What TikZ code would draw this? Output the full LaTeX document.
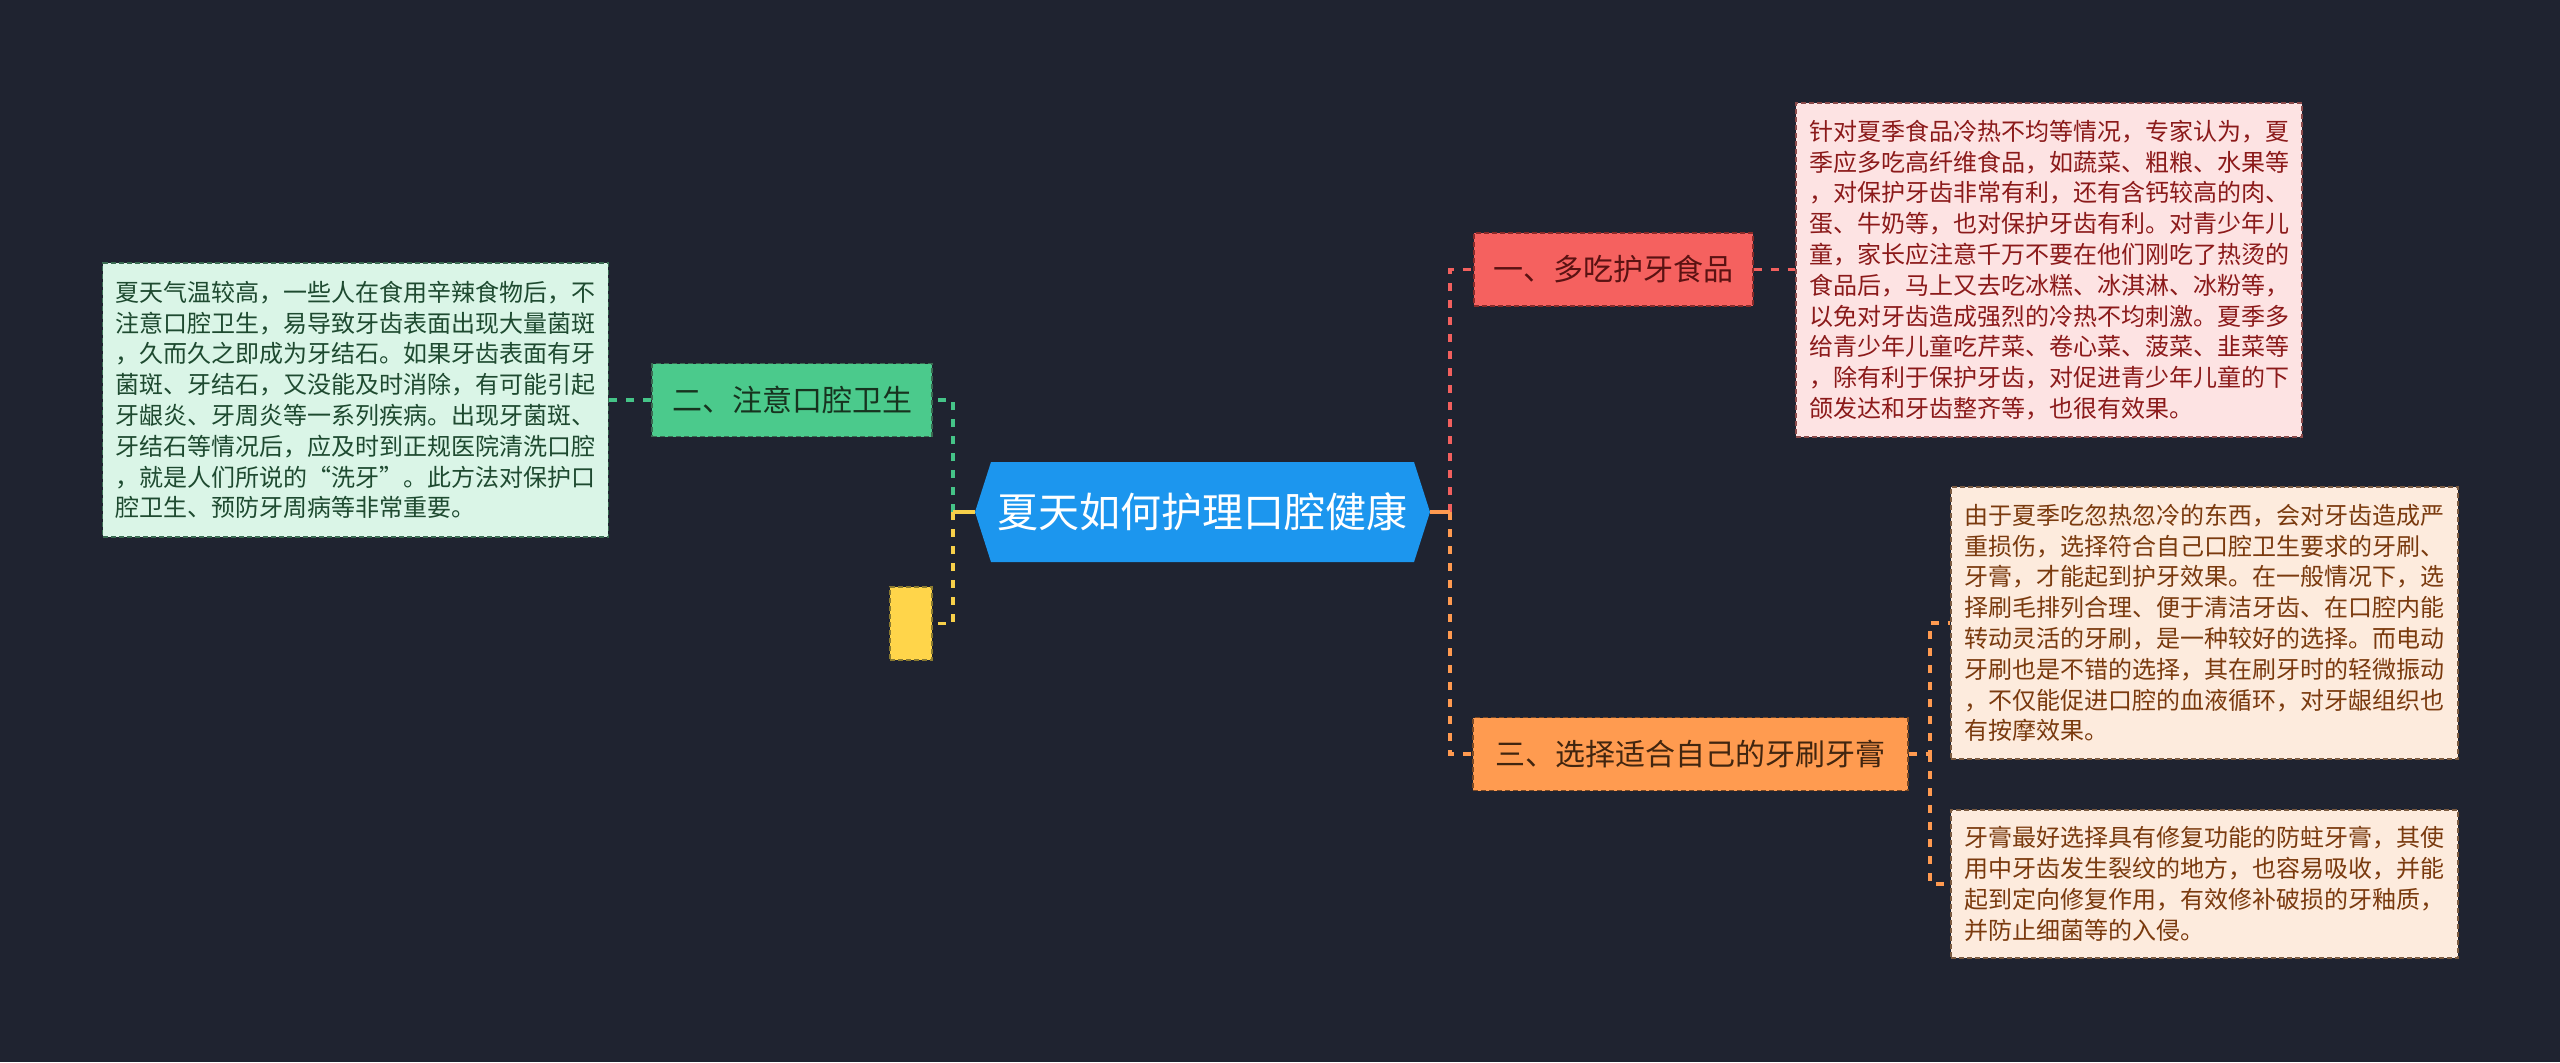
\documentclass[tikz,border=0pt]{standalone}
\usepackage{fontspec}
\setmainfont{Noto Sans CJK SC}
\usetikzlibrary{calc}
\definecolor{bg}{HTML}{1F2330}
\definecolor{rootblue}{HTML}{1C96EE}
\definecolor{cgreen}{HTML}{45C488}
\definecolor{cyellow}{HTML}{F7D04A}
\definecolor{cred}{HTML}{F2605E}
\definecolor{corange}{HTML}{FF9A50}
\definecolor{gfill}{HTML}{DAF5E7}
\definecolor{gborder}{HTML}{3A6B52}
\definecolor{gtext}{HTML}{1E4A30}
\definecolor{gbox}{HTML}{4BCA8C}
\definecolor{gboxtext}{HTML}{17331F}
\definecolor{rbox}{HTML}{F5615F}
\definecolor{rboxtext}{HTML}{5A1212}
\definecolor{pfill}{HTML}{FDE3E3}
\definecolor{pborder}{HTML}{8A4A4A}
\definecolor{ptext}{HTML}{8B1A1A}
\definecolor{obox}{HTML}{FF9B50}
\definecolor{oboxtext}{HTML}{41250F}
\definecolor{ofill}{HTML}{FDEBDD}
\definecolor{oborder}{HTML}{7A5A40}
\definecolor{otext}{HTML}{7A3A0E}
\definecolor{ybox}{HTML}{FFD54A}
\definecolor{yborder}{HTML}{8A7A30}
\begin{document}
\begin{tikzpicture}[x=0.5pt,y=-0.5pt,
  txtbox/.style={draw, line width=0.6pt, dash pattern=on 2.5pt off 1.5pt,
    font=\fontsize{12}{15.4}\selectfont, align=left, inner sep=0pt},
  brbox/.style={draw, line width=0.6pt, dash pattern=on 2.5pt off 1.5pt,
    font=\fontsize{15}{18}\selectfont, inner sep=0pt, minimum height=36.5pt},
  conn/.style={line width=1.7pt, dash pattern=on 4pt off 4.5pt},
  stub/.style={line width=1.7pt},
  roottext/.style={text=white, font=\fontsize{20.5}{24}\selectfont, inner sep=0pt}
]
\fill[bg] (0,0) rectangle (2560,1062);
\useasboundingbox (0,0) rectangle (2560,1062);

% root hexagon
\coordinate (rootL) at (975,512);
\coordinate (rootR) at (1430,512);
\fill[rootblue] (rootL) -- (991,462) -- (1414,462) -- (rootR) -- (1414,562) -- (991,562) -- cycle;
\node[roottext] (root) at (1202.5,512) {夏天如何护理口腔健康};

% branch boxes
\node[brbox, fill=gbox, draw=gborder, text=gboxtext, minimum width=140pt] (b2) at (792,400) {二、注意口腔卫生};
\node[brbox, fill=ybox, draw=yborder, minimum width=21pt] (b4) at (911,623.5) {};
\node[brbox, fill=rbox, draw=rboxtext!70!rbox, text=rboxtext, minimum width=139.5pt] (b1) at (1613.5,269.5) {一、多吃护牙食品};
\node[brbox, fill=obox, draw=oboxtext!70!obox, text=oboxtext, minimum width=217.5pt] (b3) at (1690.5,754) {三、选择适合自己的牙刷牙膏};

% text boxes
\node[txtbox, fill=gfill, draw=gborder, text=gtext, minimum width=252.75pt, minimum height=137pt] (t2) at (355.5,400) {%
夏天气温较高，一些人在食用辛辣食物后，不\\
注意口腔卫生，易导致牙齿表面出现大量菌斑\\
，久而久之即成为牙结石。如果牙齿表面有牙\\
菌斑、牙结石，又没能及时消除，有可能引起\\
牙龈炎、牙周炎等一系列疾病。出现牙菌斑、\\
牙结石等情况后，应及时到正规医院清洗口腔\\
，就是人们所说的“洗牙”。此方法对保护口\\
腔卫生、预防牙周病等非常重要。};

\node[txtbox, fill=pfill, draw=pborder, text=ptext, minimum width=253pt, minimum height=167pt] (t1) at (2049,270) {%
针对夏季食品冷热不均等情况，专家认为，夏\\
季应多吃高纤维食品，如蔬菜、粗粮、水果等\\
，对保护牙齿非常有利，还有含钙较高的肉、\\
蛋、牛奶等，也对保护牙齿有利。对青少年儿\\
童，家长应注意千万不要在他们刚吃了热烫的\\
食品后，马上又去吃冰糕、冰淇淋、冰粉等，\\
以免对牙齿造成强烈的冷热不均刺激。夏季多\\
给青少年儿童吃芹菜、卷心菜、菠菜、韭菜等\\
，除有利于保护牙齿，对促进青少年儿童的下\\
颌发达和牙齿整齐等，也很有效果。};

\node[txtbox, fill=ofill, draw=oborder, text=otext, minimum width=253.5pt, minimum height=136pt] (t3a) at (2204.5,623) {%
由于夏季吃忽热忽冷的东西，会对牙齿造成严\\
重损伤，选择符合自己口腔卫生要求的牙刷、\\
牙膏，才能起到护牙效果。在一般情况下，选\\
择刷毛排列合理、便于清洁牙齿、在口腔内能\\
转动灵活的牙刷，是一种较好的选择。而电动\\
牙刷也是不错的选择，其在刷牙时的轻微振动\\
，不仅能促进口腔的血液循环，对牙龈组织也\\
有按摩效果。};

\node[txtbox, fill=ofill, draw=oborder, text=otext, minimum width=253.5pt, minimum height=74pt] (t3b) at (2204.5,884) {%
牙膏最好选择具有修复功能的防蛀牙膏，其使\\
用中牙齿发生裂纹的地方，也容易吸收，并能\\
起到定向修复作用，有效修补破损的牙釉质，\\
并防止细菌等的入侵。};

% connectors
\coordinate (jl) at (953,512);
\coordinate (jr) at (1450,512);
\coordinate (jo) at (1930,754);
\draw[conn, cgreen] (jl) |- (b2.east);
\draw[conn, cyellow] (jl) |- (b4.east);
\draw[stub, cyellow] (rootL) -- (jl);
\draw[conn, cred] (jr) |- (b1.west);
\draw[conn, corange] (jr) |- (b3.west);
\draw[stub, corange] (rootR) -- (jr);
\draw[conn, cgreen] (b2.west) -- (t2.east);
\draw[conn, cred] (b1.east) -- (t1.west |- b1.east);
\draw[conn, corange] (b3.east) -- (jo) |- (t3a.west);
\draw[conn, corange] (jo) |- (t3b.west);
\end{tikzpicture}
\end{document}
